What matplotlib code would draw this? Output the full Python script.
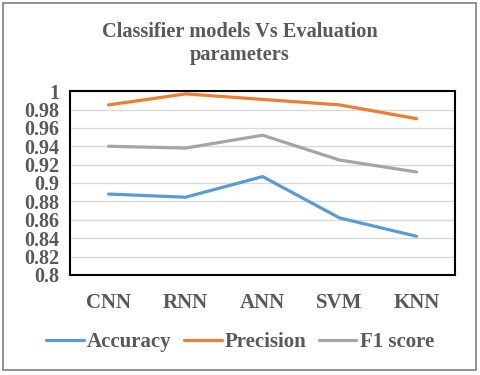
import matplotlib.pyplot as plt
from matplotlib.patches import Rectangle

models = ['CNN', 'RNN', 'ANN', 'SVM', 'KNN']
accuracy = [0.888, 0.8845, 0.907, 0.862, 0.842]
precision = [0.985, 0.997, 0.991, 0.985, 0.970]
f1_score = [0.940, 0.938, 0.952, 0.925, 0.912]

text_col = '#595959'
plt.rcParams['font.family'] = ['Liberation Serif', 'DejaVu Serif']
plt.rcParams['font.weight'] = 'bold'

fig = plt.figure(figsize=(4.8, 3.75), dpi=100)
ax = fig.add_axes([0.146, 0.267, 0.802, 0.490])

x = range(len(models))
ax.plot(x, accuracy, color='#5B9BD5', lw=2.3, label='Accuracy', solid_capstyle='round')
ax.plot(x, precision, color='#ED7D31', lw=2.3, label='Precision', solid_capstyle='round')
ax.plot(x, f1_score, color='#A5A5A5', lw=2.3, label='F1 score', solid_capstyle='round')

ax.set_xlim(-0.5, 4.5)
ax.set_ylim(0.8, 1.0)
ticks = [0.8 + 0.02 * i for i in range(11)]
ax.set_yticks(ticks)
ax.set_yticklabels(['%g' % round(t, 2) for t in ticks])
ax.set_xticks(list(x))
ax.set_xticklabels(models)
ax.grid(axis='y', color='#d9d9d9', lw=1)
ax.set_axisbelow(True)
for s in ax.spines.values():
    s.set_color('black')
    s.set_linewidth(1.5)
ax.tick_params(length=0, colors=text_col)
ax.tick_params(axis='x', pad=13, labelsize=15)
ax.tick_params(axis='y', pad=8, labelsize=14.5)

fig.text(0.5, 0.885, 'Classifier models Vs Evaluation\nparameters', ha='center', va='center',
         fontsize=14.7, color=text_col, fontweight='bold', linespacing=1.2)

leg = fig.legend(loc='center', bbox_to_anchor=(0.5, 0.088), ncol=3, frameon=False,
                 fontsize=15, handlelength=1.8, columnspacing=0.6, handletextpad=0.15)
for t in leg.get_texts():
    t.set_color(text_col)

fig.patches.append(Rectangle((0.006, 0.013), 0.985, 0.98, transform=fig.transFigure,
                             fill=False, edgecolor='#7f7f7f', lw=1.2))

fig.savefig('out.png', dpi=100)
